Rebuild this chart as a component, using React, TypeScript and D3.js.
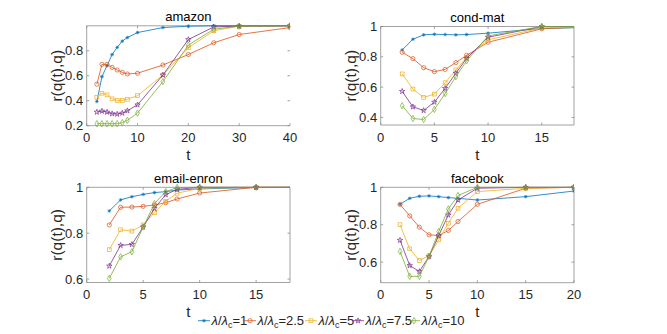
import React from 'react';
import * as d3 from 'd3';

const SERIES_LABELS = ['1', '2.5', '5', '7.5', '10'];
const COLORS = ['#0072BD', '#D95319', '#EDB120', '#7E2F8E', '#77AC30'];
const MARKERS = ['asterisk', 'circle', 'square', 'star', 'diamond'];

// amazon
const T_AMAZON = [2, 3, 4, 5, 6, 7, 8, 10, 15, 20, 25, 30, 40];
const AMAZON_1 = [0.394, 0.593, 0.68, 0.77, 0.827, 0.877, 0.906, 0.946, 0.986, 0.997, 1.0, 1.0, 1.0];
const AMAZON_2 = [0.532, 0.691, 0.691, 0.667, 0.646, 0.627, 0.614, 0.62, 0.686, 0.77, 0.864, 0.93, 0.986];
const AMAZON_3 = [0.428, 0.46, 0.447, 0.415, 0.402, 0.402, 0.412, 0.44, 0.606, 0.824, 0.96, 0.997, 1.0];
const AMAZON_4 = [0.309, 0.317, 0.309, 0.296, 0.293, 0.301, 0.32, 0.367, 0.606, 0.89, 0.991, 0.997, 1.0];
const AMAZON_5 = [0.216, 0.216, 0.216, 0.216, 0.216, 0.224, 0.243, 0.301, 0.553, 0.845, 0.973, 0.997, 1.0];

// cond-mat
const T_CONDMAT = [2, 3, 4, 5, 6, 7, 8, 10, 15, 20];
const CONDMAT_1 = [0.845, 0.916, 0.945, 0.949, 0.947, 0.945, 0.947, 0.956, 0.987, 0.995];
const CONDMAT_2 = [0.83, 0.788, 0.728, 0.702, 0.717, 0.762, 0.81, 0.896, 0.985, 1.0];
const CONDMAT_3 = [0.687, 0.587, 0.532, 0.554, 0.629, 0.713, 0.795, 0.912, 0.991, 1.0];
const CONDMAT_4 = [0.572, 0.47, 0.446, 0.501, 0.592, 0.691, 0.79, 0.929, 1.0, 1.0];
const CONDMAT_5 = [0.477, 0.393, 0.386, 0.453, 0.558, 0.669, 0.773, 0.938, 1.0, 1.0];

// email-enron
const T_EMAIL = [2, 3, 4, 5, 6, 7, 8, 10, 15, 20];
const EMAIL_1 = [0.897, 0.945, 0.959, 0.969, 0.977, 0.981, 0.988, 0.993, 0.999, 1.0];
const EMAIL_2 = [0.836, 0.913, 0.914, 0.917, 0.923, 0.933, 0.949, 0.975, 1.0, 1.0];
const EMAIL_3 = [0.728, 0.815, 0.809, 0.836, 0.889, 0.939, 0.974, 0.996, 1.0, 1.0];
const EMAIL_4 = [0.657, 0.747, 0.751, 0.827, 0.908, 0.968, 0.991, 1.0, 1.0, 1.0];
const EMAIL_5 = [0.603, 0.697, 0.719, 0.827, 0.929, 0.981, 0.999, 1.0, 1.0, 1.0];

// facebook
const T_FACEBOOK = [2, 3, 4, 5, 6, 7, 8, 10, 15, 20];
const FACEBOOK_1 = [0.909, 0.941, 0.952, 0.954, 0.95, 0.945, 0.941, 0.932, 0.95, 0.98];
const FACEBOOK_2 = [0.909, 0.847, 0.787, 0.746, 0.742, 0.769, 0.817, 0.909, 0.995, 1.0];
const FACEBOOK_3 = [0.8, 0.671, 0.609, 0.634, 0.719, 0.808, 0.888, 0.977, 0.995, 1.0];
const FACEBOOK_4 = [0.717, 0.582, 0.55, 0.63, 0.742, 0.852, 0.932, 0.995, 1.0, 1.0];
const FACEBOOK_5 = [0.657, 0.524, 0.524, 0.63, 0.764, 0.884, 0.956, 1.0, 1.0, 1.0];

const PANELS = [
  {
    id: 'amazon', title: 'amazon', t: T_AMAZON,
    series: [AMAZON_1, AMAZON_2, AMAZON_3, AMAZON_4, AMAZON_5],
    xDomain: [0, 40], yDomain: [0.2, 1], xTicks: [0, 10, 20, 30, 40], yTicks: [0.2, 0.4, 0.6, 0.8],
    box: { x: 86.7, y: 25.8, w: 203.3, h: 99.9 }, rightSpine: false,
  },
  {
    id: 'condmat', title: 'cond-mat', t: T_CONDMAT,
    series: [CONDMAT_1, CONDMAT_2, CONDMAT_3, CONDMAT_4, CONDMAT_5],
    xDomain: [0, 18], yDomain: [0.35, 1], xTicks: [0, 5, 10, 15], yTicks: [0.4, 0.6, 0.8, 1],
    box: { x: 380.7, y: 26.5, w: 193.3, h: 98.5 }, rightSpine: true,
  },
  {
    id: 'email', title: 'email-enron', t: T_EMAIL,
    series: [EMAIL_1, EMAIL_2, EMAIL_3, EMAIL_4, EMAIL_5],
    xDomain: [0, 18], yDomain: [0.585, 1], xTicks: [0, 5, 10, 15], yTicks: [0.6, 0.8, 1],
    box: { x: 86.7, y: 187.3, w: 203.3, h: 95.2 }, rightSpine: true,
  },
  {
    id: 'facebook', title: 'facebook', t: T_FACEBOOK,
    series: [FACEBOOK_1, FACEBOOK_2, FACEBOOK_3, FACEBOOK_4, FACEBOOK_5],
    xDomain: [0, 20], yDomain: [0.49, 1], xTicks: [0, 5, 10, 15, 20], yTicks: [0.6, 0.8, 1],
    box: { x: 380.7, y: 187.3, w: 193.3, h: 95.4 }, rightSpine: true,
  },
];

const FONT = '"Liberation Sans", Arial, Helvetica, sans-serif';
const AXIS_COLOR = '#262626';
const SPINE_COLOR = '#8a8a8a';

function Marker({ kind, x, y, color }: { kind: string; x: number; y: number; color: string }) {
  const sw = 0.7;
  if (kind === 'circle') {
    return <circle cx={x} cy={y} r={2.1} fill="none" stroke={color} strokeWidth={sw} />;
  }
  if (kind === 'square') {
    return <rect x={x - 1.9} y={y - 1.9} width={3.8} height={3.8} fill="none" stroke={color} strokeWidth={sw} />;
  }
  if (kind === 'diamond') {
    const p = d3.symbol().type(d3.symbolDiamond).size(12)();
    return <path d={p || ''} transform={`translate(${x},${y})`} fill="none" stroke={color} strokeWidth={sw} />;
  }
  if (kind === 'star') {
    const p = d3.symbol().type(d3.symbolStar).size(9)();
    return <path d={p || ''} transform={`translate(${x},${y})`} fill="none" stroke={color} strokeWidth={sw} />;
  }
  // asterisk
  const r = 1.8;
  const d = `M${x - r},${y}L${x + r},${y}M${x},${y - r}L${x},${y + r}M${x - r * 0.7},${y - r * 0.7}L${x + r * 0.7},${y + r * 0.7}M${x - r * 0.7},${y + r * 0.7}L${x + r * 0.7},${y - r * 0.7}`;
  return <path d={d} fill="none" stroke={color} strokeWidth={sw} />;
}

function Panel({ p }: { p: any }) {
  const { box } = p;
  const xs = d3.scaleLinear().domain(p.xDomain).range([box.x, box.x + box.w]);
  const ys = d3.scaleLinear().domain(p.yDomain).range([box.y + box.h, box.y]);
  const line = d3.line<[number, number]>().x((d) => xs(d[0])).y((d) => ys(d[1]));
  const clipId = `clip-${p.id}`;
  const tick = 2.5;
  const right = box.x + box.w;
  const bottom = box.y + box.h;
  const fmt = (v: number) => String(v);
  return (
    <g>
      <defs>
        <clipPath id={clipId}>
          <rect x={box.x} y={box.y - 4} width={box.w} height={box.h + 8} />
        </clipPath>
      </defs>
      <line x1={box.x} x2={right} y1={box.y} y2={box.y} stroke={SPINE_COLOR} strokeWidth={0.8} />
      <line x1={box.x} x2={right} y1={bottom} y2={bottom} stroke={SPINE_COLOR} strokeWidth={0.8} />
      <line x1={box.x} x2={box.x} y1={box.y} y2={bottom} stroke={SPINE_COLOR} strokeWidth={0.8} />
      {p.rightSpine && <line x1={right} x2={right} y1={box.y} y2={bottom} stroke={SPINE_COLOR} strokeWidth={0.8} />}
      {p.xTicks.map((v: number) => (
        <g key={`xt${v}`}>
          <line x1={xs(v)} x2={xs(v)} y1={bottom} y2={bottom - tick} stroke={SPINE_COLOR} strokeWidth={0.8} />
          <line x1={xs(v)} x2={xs(v)} y1={box.y} y2={box.y + tick} stroke={SPINE_COLOR} strokeWidth={0.8} />
          <text x={xs(v)} y={bottom + 16.5} textAnchor="middle" fontSize={13} fill={AXIS_COLOR} fontFamily={FONT}>
            {fmt(v)}
          </text>
        </g>
      ))}
      {p.yTicks.map((v: number) => (
        <g key={`yt${v}`}>
          <line x1={box.x} x2={box.x + tick} y1={ys(v)} y2={ys(v)} stroke={SPINE_COLOR} strokeWidth={0.8} />
          <line x1={right} x2={right - tick} y1={ys(v)} y2={ys(v)} stroke={SPINE_COLOR} strokeWidth={0.8} />
          <text x={box.x - 3.5} y={ys(v)} dy="0.36em" textAnchor="end" fontSize={13} fill={AXIS_COLOR} fontFamily={FONT}>
            {fmt(v)}
          </text>
        </g>
      ))}
      <g clipPath={`url(#${clipId})`}>
        {p.series.map((vals: number[], i: number) => {
          const pts: [number, number][] = p.t.map((t: number, j: number) => [t, vals[j]]);
          return (
            <g key={`s${i}`}>
              <path d={line(pts) || ''} fill="none" stroke={COLORS[i]} strokeWidth={0.8} />
              {pts
                .filter((d) => d[0] <= p.xDomain[1])
                .map((d, j) => (
                  <Marker key={j} kind={MARKERS[i]} x={xs(d[0])} y={ys(d[1])} color={COLORS[i]} />
                ))}
            </g>
          );
        })}
      </g>
      <text x={box.x + box.w / 2} y={box.y - 4.5} textAnchor="middle" fontSize={13} fill="#000" fontFamily={FONT}>
        {p.title}
      </text>
      <text x={box.x + box.w / 2} y={bottom + 34.5} textAnchor="middle" fontSize={15} fill={AXIS_COLOR} fontFamily={FONT}>
        t
      </text>
      <text
        transform={`translate(${box.x - 24.5},${box.y + box.h / 2}) rotate(-90)`}
        textAnchor="middle"
        fontSize={15.5}
        fill={AXIS_COLOR}
        fontFamily={FONT}
      >
        r(q(t),q)
      </text>
    </g>
  );
}

const LEGEND_X = [198, 244, 305, 352, 408];

function Legend() {
  const y = 320.7;
  return (
    <g>
      {SERIES_LABELS.map((lab, i) => {
        const x0 = LEGEND_X[i];
        return (
          <g key={lab}>
            <line x1={x0} x2={x0 + 12} y1={y} y2={y} stroke={COLORS[i]} strokeWidth={0.8} />
            <Marker kind={MARKERS[i]} x={x0 + 6} y={y} color={COLORS[i]} />
            <text x={x0 + 13.5} y={y + 4.5} fontSize={13} fill={AXIS_COLOR} fontFamily={FONT}>
              <tspan fontStyle="italic">λ</tspan>
              <tspan>/</tspan>
              <tspan fontStyle="italic">λ</tspan>
              <tspan fontSize={9} dy={3}>c</tspan>
              <tspan dy={-3}>={lab}</tspan>
            </text>
          </g>
        );
      })}
    </g>
  );
}

export default function App() {
  return (
    <svg width={667} height={334} style={{ position: 'absolute', left: 0, top: 0, background: '#fff' }}>
      <rect x={0} y={0} width={667} height={334} fill="#fff" />
      {PANELS.map((p) => (
        <Panel key={p.id} p={p} />
      ))}
      <Legend />
    </svg>
  );
}
